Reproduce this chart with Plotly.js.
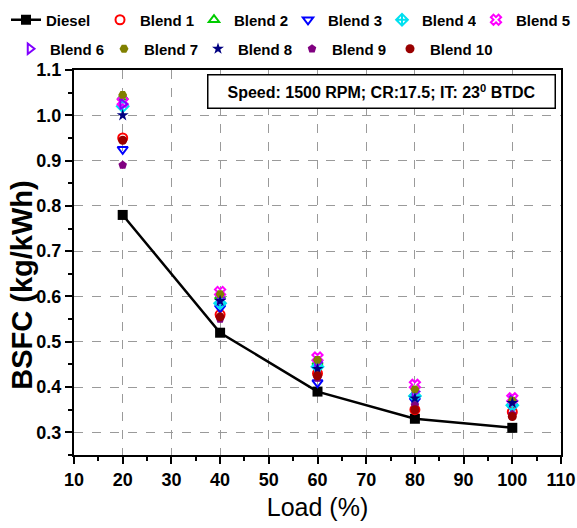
<!DOCTYPE html>
<html>
<head>
<meta charset="utf-8">
<script src="https://cdn.plot.ly/plotly-3.0.1.min.js"></script>
<style>html,body{margin:0;padding:0;background:#fff;}#chart{width:577px;height:528px;}</style>
</head>
<body>
<div id="chart"></div>
<script>
var load = [20, 40, 60, 80, 100];
var diesel  = [0.78, 0.52, 0.39, 0.33, 0.31];
var blend1  = [0.95, 0.56, 0.43, 0.35, 0.345];
var blend2  = [1.04, 0.60, 0.455, 0.385, 0.365];
var blend3  = [0.925, 0.575, 0.41, 0.37, 0.355];
var blend4  = [1.02, 0.585, 0.445, 0.38, 0.36];
var blend5  = [1.03, 0.61, 0.465, 0.405, 0.375];
var blend6  = [1.025, 0.595, 0.455, 0.39, 0.37];
var blend7  = [1.045, 0.605, 0.46, 0.395, 0.37];
var blend8  = [1.0, 0.59, 0.44, 0.375, 0.365];
var blend9  = [0.89, 0.55, 0.42, 0.36, 0.34];
var blend10 = [0.945, 0.555, 0.425, 0.35, 0.335];

var seriesNames = ["Blend 1","Blend 2","Blend 3","Blend 4","Blend 5","Blend 6","Blend 7","Blend 8","Blend 9","Blend 10"];
var seriesValues = [blend1, blend2, blend3, blend4, blend5, blend6, blend7, blend8, blend9, blend10];
var seriesColors = ["#ff0000","#00cc00","#0000ff","#00e0f0","#ff00ff","#8000ff","#808000","#000080","#800080","#990000"];
var seriesSymbols = ["circle-open","triangle-up-open","triangle-down-open","diamond-cross-open","x-open","triangle-right-open","hexagon2","star","pentagon","circle"];
// which legend row-block each series is listed in
var seriesLegend = ["legend","legend","legend","legend","legend3","legend2","legend2","legend2","legend2","legend4"];

var xTitle = "Load (%)";
var yTitle = "BSFC (kg/kWh)";
var noteText = "Speed: 1500 RPM; CR:17.5; IT: 23<sup>0</sup> BTDC";

var font = "'Liberation Sans', Arial, sans-serif";

var traces = [{
  x: load, y: diesel, name: "Diesel", type: "scatter", mode: "lines+markers",
  line: {color: "#000", width: 2.5},
  marker: {symbol: "square", size: 10, color: "#000"},
  legend: "legend"
}];
for (var i = 0; i < seriesNames.length; i++) {
  var open = seriesSymbols[i].indexOf("open") >= 0;
  traces.push({
    x: load, y: seriesValues[i], name: seriesNames[i], type: "scatter", mode: "markers",
    marker: {symbol: seriesSymbols[i], size: 9, color: seriesColors[i],
             line: {color: seriesColors[i], width: open ? 2 : 0}},
    legend: seriesLegend[i]
  });
}

function legendBox(xpx, ypx, fixed) {
  var o = {
    orientation: "h", xref: "container", yref: "container",
    x: xpx / 577, y: 1 - ypx / 528, xanchor: "left", yanchor: "middle",
    font: {family: font, size: 15, weight: "bold"},
    tracegroupgap: 0, itemwidth: 30, bgcolor: "rgba(0,0,0,0)", borderwidth: 0
  };
  if (fixed) { o.entrywidth = 49; o.entrywidthmode = "pixels"; }
  return o;
}

var layout = {
  width: 577, height: 528,
  paper_bgcolor: "#fff", plot_bgcolor: "#fff",
  margin: {l: 74, r: 16, t: 70, b: 73, autoexpand: false},
  font: {family: font, color: "#000", size: 16},
  showlegend: true,
  legend: legendBox(6, 20, true),
  legend2: legendBox(10, 49, true),
  legend3: legendBox(476, 20, false),
  legend4: legendBox(390, 49, false),
  xaxis: {
    range: [10, 110], dtick: 10, tick0: 10,
    showline: true, linecolor: "#000", linewidth: 2, mirror: true,
    ticks: "outside", ticklen: 7, tickwidth: 2, tickcolor: "#000",
    minor: {dtick: 5, ticks: "outside", ticklen: 4, tickwidth: 2, tickcolor: "#000", showgrid: false},
    showgrid: true, gridcolor: "#9a9a9a", griddash: "dash", gridwidth: 1,
    zeroline: false,
    tickfont: {family: font, size: 18, weight: "bold"},
    title: {text: xTitle, font: {family: font, size: 25}, standoff: 10}
  },
  yaxis: {
    range: [0.25, 1.1], dtick: 0.1, tick0: 0.3, tickformat: ".1f",
    showline: true, linecolor: "#000", linewidth: 2, mirror: true,
    ticks: "outside", ticklen: 7, tickwidth: 2, tickcolor: "#000",
    minor: {dtick: 0.05, ticks: "outside", ticklen: 4, tickwidth: 2, tickcolor: "#000", showgrid: false},
    showgrid: true, gridcolor: "#9a9a9a", griddash: "dash", gridwidth: 1,
    zeroline: false,
    tickfont: {family: font, size: 18, weight: "bold"}
  },
  annotations: [{
    xref: "paper", yref: "paper", x: 0.632, y: 0.945,
    xanchor: "center", yanchor: "middle", showarrow: false,
    text: noteText,
    font: {family: font, size: 16, weight: "bold", color: "#000"},
    bordercolor: "#000", borderwidth: 1.5, borderpad: 4,
    width: 338, height: 24, bgcolor: "#fff"
  }, {
    xref: "paper", yref: "paper", x: -0.107, y: 0.442,
    xanchor: "center", yanchor: "middle", showarrow: false, textangle: -90,
    text: yTitle,
    font: {family: font, size: 29, weight: "bold", color: "#000"}
  }]
};

Plotly.newPlot("chart", traces, layout, {displayModeBar: false, staticPlot: true});
</script>
</body>
</html>
